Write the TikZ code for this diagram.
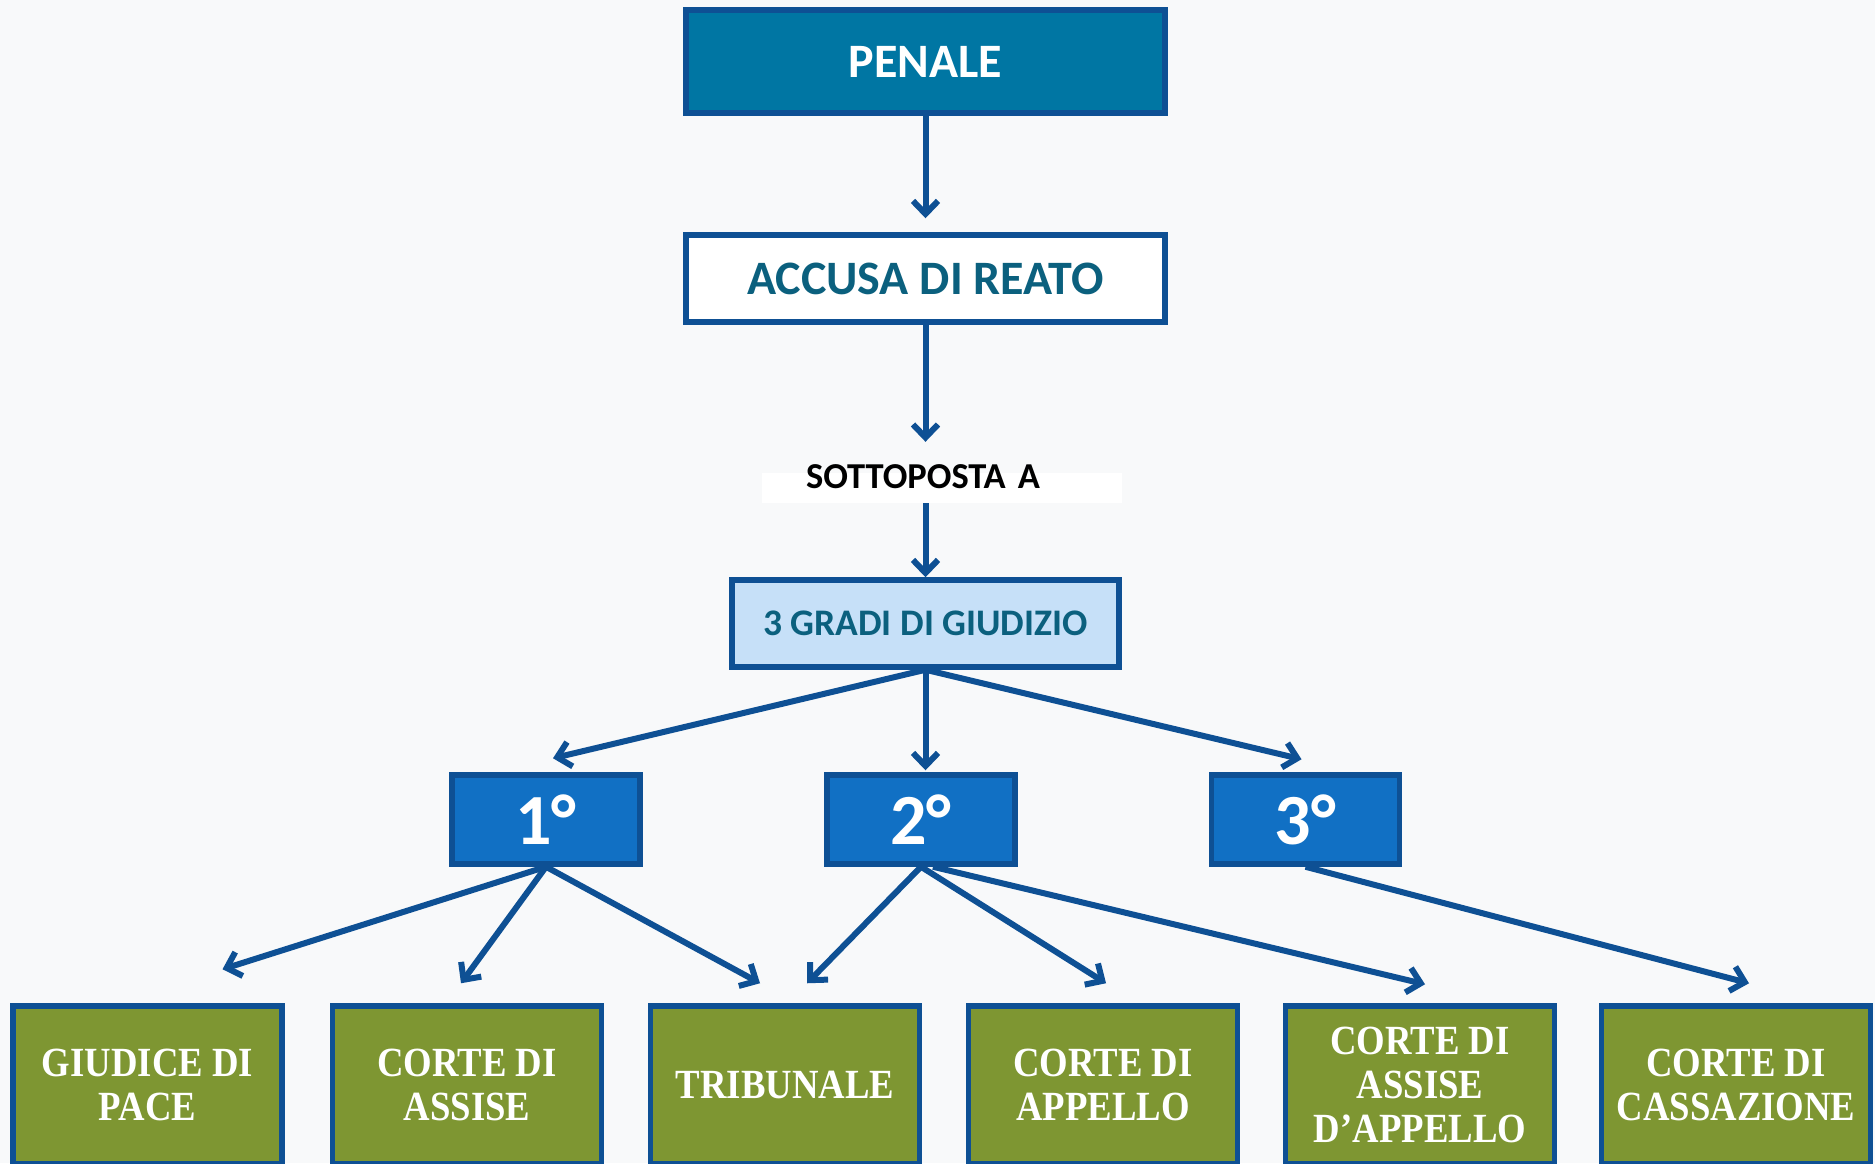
\documentclass[tikz,border=0pt]{standalone}
\usepackage{fontspec}
\setmainfont{Carlito}
\newfontfamily\courtfont[FakeStretch = 0.885]{Liberation Serif}
\usepackage{tikz}
\usetikzlibrary{arrows.meta, positioning}
\definecolor{penaleblue}{RGB}{0,118,163}
\definecolor{edgeblue}{RGB}{14,80,148}
\definecolor{tealtext}{RGB}{11,96,126}
\definecolor{paleblue}{RGB}{198,224,248}
\definecolor{gradoblue}{RGB}{17,112,196}
\definecolor{courtgreen}{RGB}{126,150,50}
\definecolor{bggray}{RGB}{248,249,250}
\tikzstyle{box} = [rectangle, draw = edgeblue, line width = 5.5, text centered]
\tikzstyle{penalebox} = [
  box, fill = penaleblue, text = white,
  minimum width = 479, minimum height = 103,
  font = \fontsize{48}{52}\selectfont\bfseries
]
\tikzstyle{accusabox} = [
  box, fill = white, text = tealtext,
  minimum width = 479, minimum height = 87,
  font = \fontsize{48}{52}\selectfont\bfseries
]
\tikzstyle{strip} = [
  rectangle, fill = white, text = black, inner sep = 0,
  text width = 360, text height = 15, text depth = 15, align = left,
  font = \fontsize{36.5}{40}\selectfont\bfseries
]
\tikzstyle{gradibox} = [
  box, fill = paleblue, text = tealtext,
  minimum width = 387, minimum height = 87,
  font = \fontsize{37.5}{42}\selectfont\bfseries
]
\tikzstyle{grado} = [
  box, fill = gradoblue, text = white,
  minimum width = 188, minimum height = 89,
  font = \fontsize{72}{80}\selectfont\bfseries
]
\tikzstyle{court} = [
  box, fill = courtgreen, text = white, align = center,
  minimum width = 269, minimum height = 158,
  font = \courtfont\fontsize{41.5}{44}\selectfont\bfseries
]
\tikzstyle{link} = [draw = edgeblue, line width = 6,
  -{Straight Barb[length = 13pt, width = 25pt]}]

\begin{document}
\begin{tikzpicture}[x = 1pt, y = -1pt, node distance = 0]
  \fill [bggray] (0, 0) rectangle (1875, 1163);
  \useasboundingbox (0, 0) rectangle (1875, 1163);
  % top
  \node [penalebox] (penale) at (925.5, 61.5) {PENALE};
  \node [accusabox, below of = penale, yshift = -217] (accusa) {ACCUSA DI REATO};
  \node [strip, below of = accusa, xshift = 16.5, yshift = -209.5] (sottoposta)
    {\hspace*{44pt}SOTTOPOSTA A};
  \node [gradibox, below of = accusa, yshift = -345] (gradi) {3 GRADI DI GIUDIZIO};
  % gradi
  \node [grado, below of = gradi, xshift = -379.5, yshift = -196] (g1) {1°};
  \node [grado, below of = gradi, xshift = -4.5, yshift = -196] (g2) {2°};
  \node [grado, below of = gradi, xshift = 380, yshift = -196] (g3) {3°};
  % corti
  \node [court] (giudice) at (147.5, 1085) {GIUDICE DI\\PACE};
  \node [court, right of = giudice, xshift = 319.5] (assise) {CORTE DI\\ASSISE};
  \node [court, right of = assise, xshift = 318] (tribunale) {TRIBUNALE};
  \node [court, right of = tribunale, xshift = 318] (appello) {CORTE DI\\APPELLO};
  \node [court, right of = appello, xshift = 317] (assiseapp) {CORTE DI\\ASSISE\\D’APPELLO};
  \node [court, right of = assiseapp, xshift = 316] (cassazione) {CORTE DI\\CASSAZIONE};

  \draw [link, shorten >= 14] (penale) -- (accusa);
  \draw [link, shorten >= 31] (accusa.south) -- (accusa.south |- sottoposta.north);
  \draw [link] (gradi.north |- sottoposta.south) -- (gradi.north);
  \draw [link] (gradi.south) -- ([xshift = 7, yshift = 14] g1.north);
  \draw [link, shorten >= 2] (gradi.south) -- (gradi.south |- g2.north);
  \draw [link] (gradi.south) -- ([xshift = -4, yshift = 13] g3.north);
  \draw [link] (g1.south) -- ([xshift = 75, yshift = 34] giudice.north);
  \draw [link] (g1.south) -- ([xshift = -6, yshift = 20] assise.north);
  \draw [link] (g1.south) -- ([xshift = -25, yshift = 20] tribunale.north);
  \draw [link] (g2.south) -- ([xshift = 22, yshift = 20] tribunale.north);
  \draw [link] (g2.south) -- ([xshift = 3, yshift = 20] appello.north);
  \draw [link] ([xshift = 12] g2.south) -- ([xshift = 5, yshift = 19] assiseapp.north);
  \draw [link] (g3.south) -- ([xshift = 13, yshift = 20] cassazione.north);
\end{tikzpicture}
\end{document}
